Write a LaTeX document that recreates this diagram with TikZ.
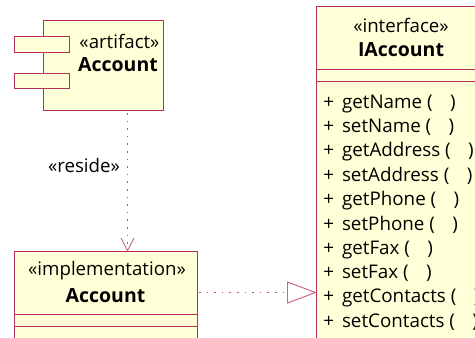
\documentclass[tikz,border=0pt]{standalone}
\usepackage{fontspec}
\setmainfont{Open Sans}
\definecolor{umlline}{HTML}{B5305F}
\definecolor{umlfill}{HTML}{FFFFD8}
\tikzset{
  umlbox/.style={draw=umlline,fill=umlfill,line width=0.8pt,inner sep=0pt,anchor=north west},
  thinline/.style={draw=umlline,line width=0.75pt},
  linkline/.style={draw=umlline!85,line width=1pt,dash pattern=on 1.2pt off 4.5pt},
  headline/.style={draw=umlline!75,line width=0.7pt},
  label/.style={font=\fontsize{14}{15}\selectfont,text=black,inner sep=0pt},
  namelabel/.style={font=\fontsize{14.6}{15}\selectfont\bfseries,text=black,inner sep=0pt},
  oper/.style={font=\fontsize{14.1}{15}\selectfont,text=black,inner sep=0pt,anchor=base west}
}
\newcommand{\opline}[1]{+\,\ #1 (\,\,\,\, )}
\begin{document}
\begin{tikzpicture}[x=0.75pt,y=-0.75pt]
\useasboundingbox (0,0) rectangle (475,337);
\clip (0,0) rectangle (475,337);
% artifact
\node[umlbox,minimum width=120*0.75pt,minimum height=90*0.75pt] (art) at (43,19.5) {};
\node[umlbox,minimum width=55*0.75pt,minimum height=15.5*0.75pt] (port1) at (14,36) {};
\node[umlbox,minimum width=55*0.75pt,minimum height=15.5*0.75pt] (port2) at (14,72.5) {};
\node[label] (artst) at (119.5,41) {«artifact»};
\node[namelabel] (artname) at (118,65) {Account};
% implementation
\node[umlbox,minimum width=183*0.75pt,minimum height=90*0.75pt] (impl) at (14,250.5) {};
\node[label] (implst) at (107,271) {«implementation»};
\node[namelabel] (implname) at (105.5,296) {Account};
\draw[thinline] (14,314.5) -- (197,314.5) (14,326) -- (197,326);
% interface
\node[umlbox,minimum width=180*0.75pt,minimum height=350*0.75pt] (iface) at (315.5,6) {};
\node[label] (ifst) at (401,25) {«interface»};
\node[namelabel] (ifname) at (401,50) {IAccount};
\draw[thinline] (315.5,69) -- (480,69) (315.5,81) -- (480,81);
\node[oper] (o1) at (323,108) {\opline{getName}};
\node[oper] (o2) at (323,132) {\opline{setName}};
\node[oper] (o3) at (323,156) {\opline{getAddress}};
\node[oper] (o4) at (323,181) {\opline{setAddress}};
\node[oper] (o5) at (323,205) {\opline{getPhone}};
\node[oper] (o6) at (323,230) {\opline{setPhone}};
\node[oper] (o7) at (323,254) {\opline{getFax}};
\node[oper] (o8) at (323,278) {\opline{setFax}};
\node[oper] (o9) at (323,302) {\opline{getContacts}};
\node[oper] (o10) at (323,327) {\opline{setContacts}};
% reside connector
\coordinate (resfrom) at (127.5,113);
\coordinate (resto) at (impl.north -| resfrom);
\draw[linkline] (resfrom) -- (resto);
\draw[headline] (121,238) -- (resto) -- (134,238);
\node[label] (reside) at (84,165) {«reside»};
% realization connector
\coordinate (realfrom) at (199,292.5);
\coordinate (realto) at (iface.west |- realfrom);
\coordinate (realbase) at (287.5,292.5);
\draw[linkline] (realfrom) -- (realbase);
\draw[headline,line join=miter] (287.5,282) -- (realto) -- (287.5,303) -- cycle;
\end{tikzpicture}
\end{document}
